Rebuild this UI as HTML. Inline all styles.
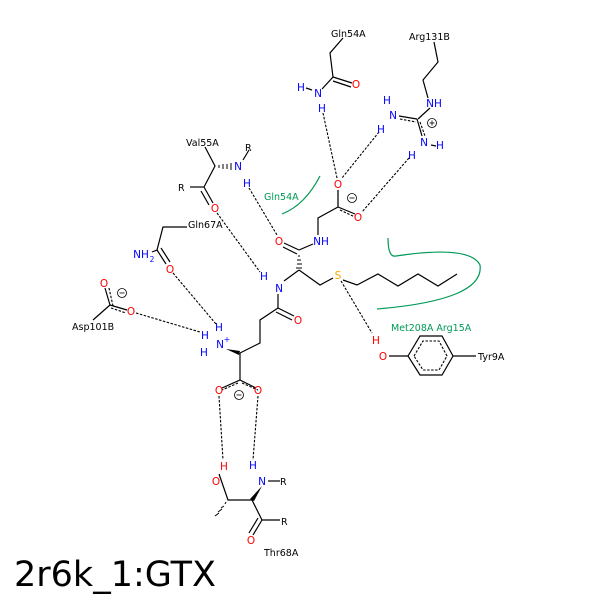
<!DOCTYPE html>
<html><head><style>body{margin:0;background:#fff}svg{display:block}</style></head><body>
<svg width="600" height="600" viewBox="0 0 600 600" xmlns="http://www.w3.org/2000/svg" font-family="DejaVu Sans, Liberation Sans, sans-serif" font-size="10">
<g stroke="#000" stroke-width="1.2" fill="none">
<polyline points="343,38 330,53 333,77 322,89"/>
<line x1="333" y1="77" x2="352" y2="83"/><line x1="333" y1="81" x2="351" y2="87"/>
<line x1="306" y1="88" x2="312" y2="90"/>
<polyline points="434,42 438,62 423,80 428,98"/>
<line x1="430" y1="108" x2="418" y2="119"/>
<line x1="399" y1="116" x2="417" y2="119"/>
<line x1="417" y1="119" x2="422" y2="136"/>
<line x1="431" y1="145" x2="436" y2="146"/>
<polyline points="205,147 215,166 204,187"/>
<line x1="243" y1="160" x2="249" y2="150"/>
<line x1="190" y1="187" x2="204" y2="187"/>
<line x1="204" y1="187" x2="213" y2="203"/><line x1="201" y1="191" x2="209" y2="205"/>
<polyline points="338,207 318,218 318,235"/>
<line x1="338" y1="207" x2="338" y2="190"/>
<line x1="338" y1="207" x2="355" y2="214"/>
<line x1="299" y1="250" x2="313" y2="244"/>
<line x1="284" y1="243" x2="299" y2="250"/><line x1="283" y1="247" x2="297" y2="254"/>
<polyline points="299,270 320,285 333,278"/>
<line x1="299" y1="270" x2="284" y2="281"/>
<line x1="278" y1="294" x2="278" y2="308"/>
<line x1="278" y1="308" x2="294" y2="316"/><line x1="276" y1="312" x2="292" y2="320"/>
<polyline points="278,308 260,320 260,343 240,353"/>
<line x1="240" y1="353" x2="240" y2="380"/>
<line x1="240" y1="380" x2="222" y2="388"/><line x1="240" y1="380" x2="256" y2="388"/>
<polyline points="343,280 357,285 378,274 398,286 418,274 438,286 457,274"/>
<polyline points="187,227 163,227 157,250 152,252"/>
<line x1="157" y1="250" x2="166" y2="264"/><line x1="161" y1="248" x2="170" y2="262"/>
<line x1="110" y1="305" x2="93" y2="320"/>
<line x1="110" y1="305" x2="105" y2="288"/>
<line x1="110" y1="305" x2="127" y2="310"/>
<polyline points="219,474 228,500 252,500 262,520 280,520"/>
<line x1="268" y1="481" x2="280" y2="481"/>
<line x1="262" y1="520" x2="253" y2="535"/><line x1="258" y1="518" x2="249" y2="533"/>
<line x1="389" y1="356" x2="408" y2="356"/>
<polygon points="408,356 420,336 442,336 453,356 442,375 420,375"/>
<line x1="453" y1="356" x2="476" y2="356"/>
</g>
<g stroke="#000" stroke-width="1.1" fill="none" stroke-dasharray="2.5,1.5">
<polygon points="414,356 423,341 439,341 447,356 439,370 423,370"/>
<line x1="338" y1="190" x2="338" y2="207"/>
<line x1="340" y1="210" x2="355" y2="217"/>
<line x1="242" y1="383" x2="258" y2="390"/><line x1="238" y1="383" x2="222" y2="390"/>
<line x1="113" y1="306" x2="109" y2="288"/><line x1="111" y1="308" x2="126" y2="313"/>
<line x1="400" y1="119" x2="416" y2="122"/><line x1="420" y1="122" x2="425" y2="136"/>
<line x1="323" y1="113" x2="337" y2="178"/>
<line x1="379" y1="132" x2="342" y2="178"/>
<line x1="409" y1="158" x2="362" y2="212"/>
<line x1="249" y1="188" x2="277" y2="235"/>
<line x1="217" y1="213" x2="260" y2="272"/>
<line x1="173" y1="273" x2="216" y2="324"/>
<line x1="136" y1="313" x2="200" y2="332"/>
<line x1="219" y1="396" x2="223" y2="460"/>
<line x1="258" y1="396" x2="253" y2="460"/>
<line x1="341" y1="281" x2="372" y2="333"/>
</g>
<g stroke="#000" stroke-width="1">
<line x1="219" y1="165" x2="219" y2="168"/><line x1="223" y1="164" x2="223" y2="169"/><line x1="227" y1="164" x2="227" y2="169"/><line x1="231" y1="163" x2="231" y2="170"/>
<line x1="298" y1="256" x2="300" y2="256"/><line x1="297" y1="260" x2="301" y2="260"/><line x1="297" y1="264" x2="302" y2="264"/><line x1="296" y1="268" x2="302" y2="268"/>
<line x1="225" y1="504" x2="226" y2="502"/><line x1="221" y1="508" x2="224" y2="506"/><line x1="218" y1="512" x2="222" y2="509"/><line x1="215" y1="516" x2="219" y2="513"/>
</g>
<polygon points="226,349 240,351 239,355" fill="#000"/>
<polygon points="262,486 250,499 254,501" fill="#000"/>
<g stroke="#009955" stroke-width="1.2" fill="none">
<path d="M320,176 Q305,205 282,214"/>
<path d="M388,238 Q388,258 396,256 Q470,245 480,265 Q485,300 377,309"/>
</g>
<g fill="#009955" font-size="9.5">
<text x="264" y="200">Gln54A</text>
<text x="391" y="331">Met208A Arg15A</text>
</g>
<g fill="#000" font-size="9.5">
<text x="331" y="37">Gln54A</text>
<text x="409" y="40">Arg131B</text>
<text x="186" y="146">Val55A</text>
<text x="245" y="151">R</text>
<text x="178" y="191">R</text>
<text x="188" y="228">Gln67A</text>
<text x="72" y="330">Asp101B</text>
<text x="280" y="485">R</text>
<text x="281" y="525">R</text>
<text x="264" y="556">Thr68A</text>
<text x="478" y="360">Tyr9A</text>
</g>
<g fill="#0000ff" font-size="10.5" text-anchor="middle">
<text x="301" y="91">H</text><text x="318" y="97">N</text><text x="322" y="112">H</text>
<text x="434" y="107">NH</text>
<text x="387" y="104">H</text><text x="393" y="119">N</text><text x="381" y="133">H</text>
<text x="424" y="146">N</text><text x="440" y="149">H</text><text x="412" y="159">H</text>
<text x="238" y="170">N</text><text x="247" y="187">H</text>
<text x="321" y="245">NH</text>
<text x="279" y="292">N</text><text x="264" y="280">H</text>
<text x="141" y="258">NH</text><text x="152" y="262" font-size="7.5">2</text>
<text x="219" y="331">H</text><text x="205" y="339">H</text><text x="220" y="348">N</text><text x="227" y="342" font-size="8">+</text><text x="204" y="356">H</text>
<text x="253" y="469">H</text><text x="262" y="485">N</text>
</g>
<g fill="#ff0000" font-size="10.5" text-anchor="middle">
<text x="356" y="88">O</text>
<text x="338" y="188">O</text><text x="358" y="221">O</text>
<text x="215" y="212">O</text>
<text x="279" y="245">O</text>
<text x="298" y="324">O</text>
<text x="170" y="273">O</text>
<text x="104" y="287">O</text><text x="131" y="315">O</text>
<text x="219" y="394">O</text><text x="258" y="394">O</text>
<text x="224" y="470">H</text><text x="216" y="485">O</text>
<text x="251" y="544">O</text>
<text x="376" y="344">H</text><text x="383" y="360">O</text>
</g>
<text x="338" y="279" fill="#ffa500" font-size="10.5" text-anchor="middle">S</text>
<g fill="none" stroke="#000" stroke-width="0.8">
<circle cx="432" cy="123" r="4.5"/><line x1="429.5" y1="123" x2="434.5" y2="123"/><line x1="432" y1="120.5" x2="432" y2="125.5"/>
<circle cx="352" cy="198" r="4.5"/><line x1="349.5" y1="198" x2="354.5" y2="198"/>
<circle cx="122" cy="293" r="4.5"/><line x1="119.5" y1="293" x2="124.5" y2="293"/>
<circle cx="239" cy="395" r="4.5"/><line x1="236.5" y1="395" x2="241.5" y2="395"/>
</g>
<text x="14" y="586" font-size="35" fill="#000" font-family="DejaVu Sans, sans-serif">2r6k_1:GTX</text>
</svg>
</body></html>
